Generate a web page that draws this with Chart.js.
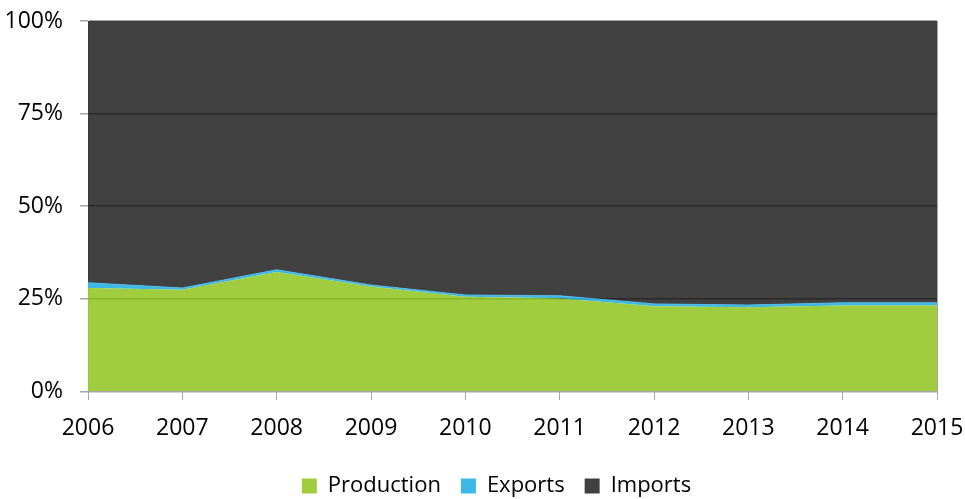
<!DOCTYPE html>
<html>
<head>
<meta charset="utf-8">
<script src="https://cdn.jsdelivr.net/npm/chart.js@4/dist/chart.umd.min.js"></script>
<style>
  html, body { margin: 0; padding: 0; background: #ffffff; }
  #wrap { width: 965px; height: 499px; position: relative; }
</style>
</head>
<body>
<div id="wrap"><canvas id="chart" width="965" height="499"></canvas></div>
<script>
// Share of supply by year (percent of total)
const years = ['2006', '2007', '2008', '2009', '2010', '2011', '2012', '2013', '2014', '2015'];
const production = [27.9, 27.4, 32.2, 28.3, 25.5, 25.1, 23.0, 22.7, 23.2, 23.2];
const exportsShare = [1.4, 0.5, 0.6, 0.4, 0.5, 0.7, 0.6, 0.6, 0.7, 0.7];
const imports = [70.7, 72.1, 67.2, 71.3, 74.0, 74.2, 76.4, 76.7, 76.1, 76.1];
const yTicks = [0, 25, 50, 75, 100];

const seriesNames = ['Production', 'Exports', 'Imports'];
const fills = ['rgba(151,200,44,0.91)', 'rgba(42,176,228,0.91)', 'rgba(46,46,46,0.91)'];
const legendColors = ['#a0cd3e', '#3db8e6', '#404040'];
const axisGrey = '#a6a6a6';
const font = "'Open Sans', 'Noto Sans', sans-serif";

const series = [production, exportsShare, imports];

const datasets = series.map((values, i) => ({
  label: seriesNames[i],
  data: values,
  backgroundColor: fills[i],
  borderColor: i === 1 ? 'rgba(80,190,235,0.9)' : 'transparent',
  borderWidth: i === 1 ? 1 : 0,
  pointRadius: 0,
  tension: 0,
  fill: i === 0 ? 'origin' : '-1'
}));

// Nudge the legend row to the right of the canvas centre line
const legendOffset = {
  id: 'legendOffset',
  afterLayout(chart) {
    const lg = chart.legend;
    if (lg) { lg.left += 28; lg.right += 28; }
  }
};

new Chart(document.getElementById('chart'), {
  type: 'line',
  data: { labels: years, datasets },
  plugins: [legendOffset],
  options: {
    responsive: false,
    animation: false,
    layout: { padding: { top: 21, right: 28, bottom: -8, left: 0 } },
    plugins: {
      tooltip: { enabled: false },
      legend: {
        position: 'bottom',
        labels: {
          color: '#000000',
          font: { family: font, size: 22 },
          boxWidth: 15,
          boxHeight: 15,
          padding: 20,
          generateLabels: () => seriesNames.map((name, i) => ({
            text: name,
            fillStyle: legendColors[i],
            strokeStyle: legendColors[i],
            lineWidth: 0,
            hidden: false,
            datasetIndex: i
          }))
        }
      }
    },
    scales: {
      x: {
        type: 'category',
        offset: false,
        border: { color: axisGrey, width: 1, z: 2 },
        grid: {
          z: 1,
          offset: false,
          drawOnChartArea: true,
          color: (ctx) => ctx.index === years.length - 1 ? axisGrey : 'rgba(0,0,0,0)',
          tickColor: axisGrey,
          tickLength: 23,
          tickBorderDash: [8, 100]
        },
        ticks: {
          color: '#000000',
          font: { family: font, size: 23 },
          padding: 0,
          maxRotation: 0,
          autoSkip: false
        },
        afterFit: (scale) => { scale.height = 63.7; }
      },
      y: {
        stacked: true,
        min: 0,
        max: 100,
        afterBuildTicks: (scale) => { scale.ticks = yTicks.map(v => ({ value: v })); },
        border: { color: axisGrey, width: 1 },
        grid: {
          color: (ctx) => (ctx.tick.value === 100 || ctx.tick.value === 0) ? axisGrey : '#000000',
          tickColor: axisGrey,
          tickWidth: 1.5,
          tickLength: 8,
          lineWidth: 1.5
        },
        ticks: {
          color: '#000000',
          font: { family: font, size: 23, lineHeight: 0.3 },
          padding: 17,
          callback: (v) => v + '%'
        },
        afterFit: (scale) => { scale.width = 88; }
      }
    }
  }
});
</script>
</body>
</html>
